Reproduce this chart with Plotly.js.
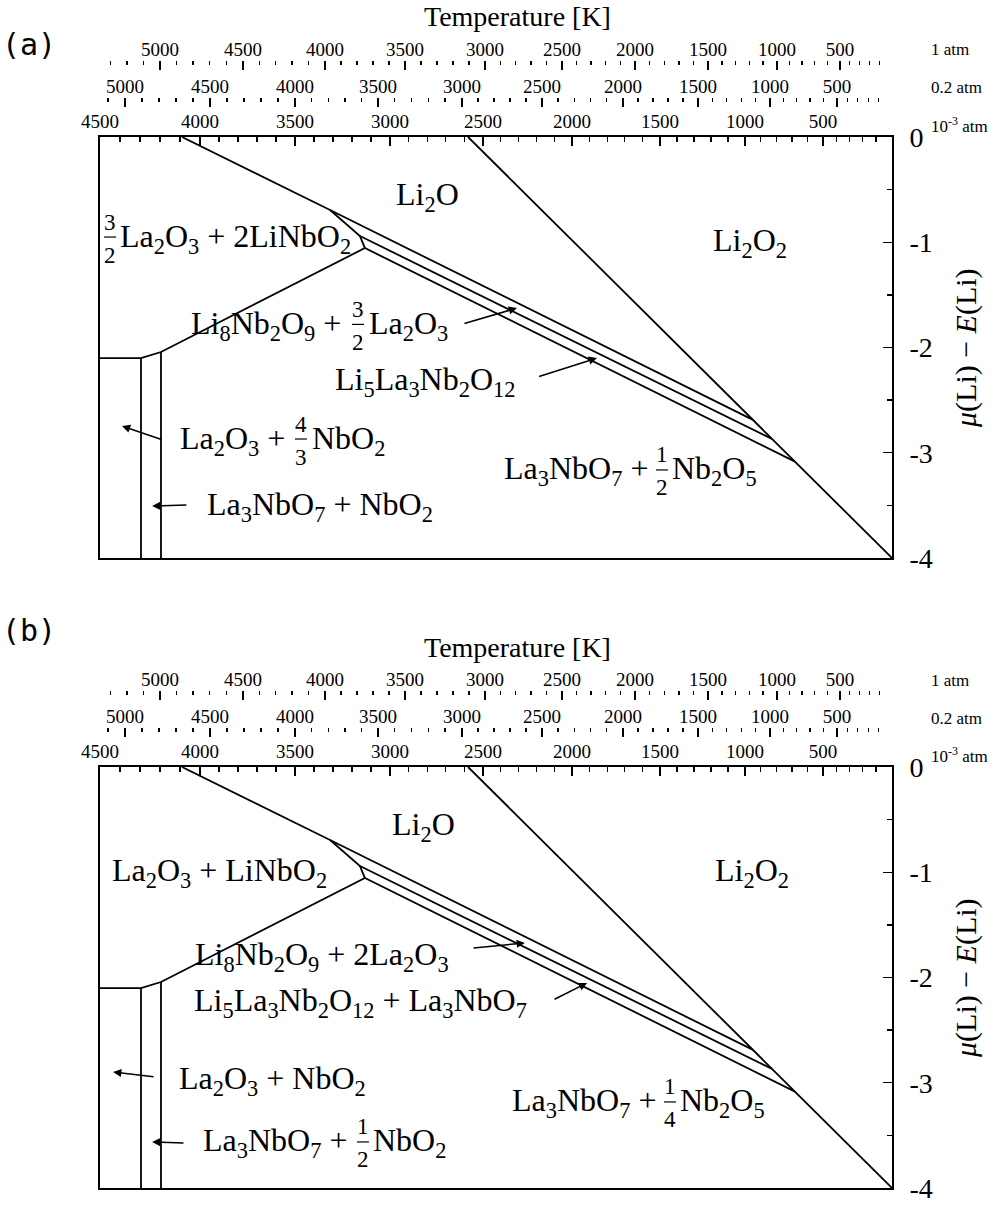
<!DOCTYPE html>
<html>
<head>
<meta charset="utf-8">
<script src="https://cdn.plot.ly/plotly-3.0.1.min.js"></script>
<style>html,body{margin:0;padding:0;background:#fff}#chart{width:1000px;height:1205px}</style>
</head>
<body>
<div id="chart"></div>
<script>
// ===== DATA =====
// x: oxygen chemical potential axis (eV, hidden), y: mu(Li) - E(Li) (eV)
const bTopX  = [-3.586, -2.838, -0.702];
const bTopY  = [0, -0.694, -2.688];
const bPerX  = [-2.141, 0];
const bPerY  = [0, -4];
const bStepX = [-2.838, -2.687, -2.662];
const bStepY = [-0.694, -0.941, -1.055];
const bMidX  = [-2.687, -0.606];
const bMidY  = [-0.941, -2.868];
const bLowX  = [-4.0, -3.793, -3.692, -2.662, -0.490];
const bLowY  = [-2.100, -2.100, -2.043, -1.055, -3.084];
const bV1X   = [-3.793, -3.793];
const bV1Y   = [-2.100, -4];
const bV2X   = [-3.692, -3.692];
const bV2Y   = [-2.043, -4];

// right axis ticks
const muTicks    = [0, -1, -2, -3, -4];
const muTickText = ['0', '-1', '-2', '-3', '-4'];
const muMinor    = [-0.5, -1.5, -2.5, -3.5];

// temperature scales (K) and their positions on the x axis
const t1atmK    = [5000, 4500, 4000, 3500, 3000, 2500, 2000, 1500, 1000, 500];
const t1atmPos  = [-3.697, -3.278, -2.864, -2.460, -2.056, -1.667, -1.298, -0.929, -0.581, -0.263];
const t02atmK   = [5000, 4500, 4000, 3500, 3000, 2500, 2000, 1500, 1000, 500];
const t02atmPos = [-3.874, -3.444, -3.015, -2.596, -2.172, -1.768, -1.359, -0.980, -0.616, -0.278];
const t3atmK    = [4500, 4000, 3500, 3000, 2500, 2000, 1500, 1000, 500];
const t3atmPos  = [-4.000, -3.495, -3.015, -2.535, -2.066, -1.616, -1.172, -0.742, -0.348];
const tZeroPos  = -0.015; // 0 K

// region names: [left text, numerator, denominator, right text]
const regionsA = [
  ['Li<sub>2</sub>O', '', '', ''],
  ['Li<sub>2</sub>O<sub>2</sub>', '', '', ''],
  ['', '3', '2', 'La<sub>2</sub>O<sub>3</sub> + 2LiNbO<sub>2</sub>'],
  ['Li<sub>8</sub>Nb<sub>2</sub>O<sub>9</sub> +', '3', '2', 'La<sub>2</sub>O<sub>3</sub>'],
  ['Li<sub>5</sub>La<sub>3</sub>Nb<sub>2</sub>O<sub>12</sub>', '', '', ''],
  ['La<sub>2</sub>O<sub>3</sub> +', '4', '3', 'NbO<sub>2</sub>'],
  ['La<sub>3</sub>NbO<sub>7</sub> + NbO<sub>2</sub>', '', '', ''],
  ['La<sub>3</sub>NbO<sub>7</sub> +', '1', '2', 'Nb<sub>2</sub>O<sub>5</sub>']
];
const regionsB = [
  ['Li<sub>2</sub>O', '', '', ''],
  ['Li<sub>2</sub>O<sub>2</sub>', '', '', ''],
  ['La<sub>2</sub>O<sub>3</sub> + LiNbO<sub>2</sub>', '', '', ''],
  ['Li<sub>8</sub>Nb<sub>2</sub>O<sub>9</sub> + 2La<sub>2</sub>O<sub>3</sub>', '', '', ''],
  ['Li<sub>5</sub>La<sub>3</sub>Nb<sub>2</sub>O<sub>12</sub> + La<sub>3</sub>NbO<sub>7</sub>', '', '', ''],
  ['La<sub>2</sub>O<sub>3</sub> + NbO<sub>2</sub>', '', '', ''],
  ['La<sub>3</sub>NbO<sub>7</sub> +', '1', '2', 'NbO<sub>2</sub>'],
  ['La<sub>3</sub>NbO<sub>7</sub> +', '1', '4', 'Nb<sub>2</sub>O<sub>5</sub>']
];

// ===== LAYOUT HELPERS (positions / styles) =====
const regionPosA = [[-2.348,-0.570],[-0.717,-1.007],[-3.949,-0.960],[-2.697,-1.790],[-2.359,-2.320],[-2.985,-2.879],[-2.889,-3.515],[-1.162,-3.173]];
const regionPosB = [[-2.364,-0.570],[-0.707,-1.007],[-3.399,-0.998],[-2.879,-1.796],[-2.682,-2.242],[-3.131,-2.983],[-2.672,-3.572],[-1.121,-3.192]];
const fracGapA = [[0,0],[0,0],[0,8],[-15,9],[0,0],[-14,9],[0,0],[-12,8]];
const fracGapB = [[0,0],[0,0],[0,0],[0,0],[0,0],[0,0],[-14,8],[-12,8]];
// arrows [tailX, tailY, tipX, tipY]
const arrowsA = [[-2.167,-1.777,-1.894,-1.625],[-1.790,-2.280,-1.490,-2.100],[-3.682,-2.879,-3.889,-2.746],[-3.556,-3.497,-3.737,-3.506]];
const arrowsB = [[-2.121,-1.720,-1.854,-1.672],[-1.712,-2.214,-1.540,-2.052],[-3.722,-2.945,-3.934,-2.898],[-3.571,-3.572,-3.737,-3.563]];

const SERIF = 'Liberation Serif, Times New Roman, serif';
const LABEL_SIZE = 32, FRAC_SIZE = 23, TICK_SIZE = 19;
const H = 1205, W = 1000;
const py = p => 1 - p / H;

function minorTicks(pos, zeroPos, lo) {
  const out = [];
  const step0 = (pos[1] - pos[0]) / 5;
  for (let k = 1; ; k++) { const p = pos[0] - step0 * k; if (p < lo - 1e-9) break; out.push(p); }
  for (let i = 0; i < pos.length - 1; i++) for (let k = 1; k < 5; k++) out.push(pos[i] + (pos[i+1] - pos[i]) * k / 5);
  const last = pos[pos.length - 1];
  for (let k = 1; k < 5; k++) out.push(last + (zeroPos - last) * k / 5);
  return out;
}

const lineStyle = {color: '#000', width: 1.8};
const boundaries = [[bTopX,bTopY],[bPerX,bPerY],[bStepX,bStepY],[bMidX,bMidY],[bLowX,bLowY],[bV1X,bV1Y],[bV2X,bV2Y]];

const traces = [];
const annotations = [];
const shapes = [];

function tempAxis(K, pos, position, overlay, withLine, anchor) {
  const ax = {
    range: [-4, 0], side: 'top', showgrid: false, zeroline: false, fixedrange: true,
    tickmode: 'array', tickvals: pos, ticktext: K.map(String),
    ticks: 'inside', ticklen: 9, tickwidth: 1.4, tickcolor: '#000',
    tickfont: {family: SERIF, size: TICK_SIZE, color: '#000'},
    minor: {tickmode: 'array', tickvals: minorTicks(pos, tZeroPos, -4), ticks: 'inside', ticklen: 4, tickwidth: 1.4, tickcolor: '#000'}
  };
  if (overlay) { ax.overlaying = overlay; ax.anchor = 'free'; ax.position = position; ax.showline = false; }
  else { ax.anchor = anchor; ax.showline = true; ax.mirror = true; ax.linecolor = '#000'; ax.linewidth = 1.8; ax.ticklen = 9; ax.minor.ticklen = 5; }
  return ax;
}

function yAxis(domain, anchor) {
  return {
    domain: domain, anchor: anchor, range: [-4, 0], side: 'right', showgrid: false, zeroline: false, fixedrange: true,
    showline: true, mirror: true, linecolor: '#000', linewidth: 1.8,
    tickmode: 'array', tickvals: muTicks, ticktext: muTickText,
    ticks: 'inside', ticklen: 9, tickwidth: 1.4, tickcolor: '#000', ticklabelstandoff: 10,
    tickfont: {family: SERIF, size: 28, color: '#000'},
    minor: {tickmode: 'array', tickvals: muMinor, ticks: 'inside', ticklen: 5, tickwidth: 1.4, tickcolor: '#000'}
  };
}

function panel(xa, ya, regions, regionPos, fracGap, arrows, offsetPx, letter) {
  const xr = xa, yr = ya;
  boundaries.forEach(b => traces.push({type: 'scatter', mode: 'lines', x: b[0], y: b[1], xaxis: xr, yaxis: yr, line: lineStyle, hoverinfo: 'skip', showlegend: false}));
  regions.forEach((r, i) => {
    const [x, y] = regionPos[i];
    const base = {xref: xr, yref: yr, x: x, y: y, showarrow: false, yanchor: 'middle', font: {family: SERIF, size: LABEL_SIZE, color: '#000'}};
    if (!r[1]) {
      annotations.push(Object.assign({}, base, {text: r[0], xanchor: 'center'}));
    } else {
      if (r[0]) annotations.push(Object.assign({}, base, {text: r[0], xanchor: 'right', xshift: fracGap[i][0]}));
      if (r[3]) annotations.push(Object.assign({}, base, {text: r[3], xanchor: 'left', xshift: fracGap[i][1]}));
      const fb = {xref: xr, yref: yr, x: x, y: y, showarrow: false, xanchor: 'center', yanchor: 'middle', font: {family: SERIF, size: FRAC_SIZE, color: '#000'}};
      annotations.push(Object.assign({}, fb, {text: r[1], yshift: 16}));
      annotations.push(Object.assign({}, fb, {text: r[2], yshift: -17}));
      shapes.push({type: 'line', xref: xr, yref: yr, xsizemode: 'pixel', ysizemode: 'pixel', xanchor: x, yanchor: y, x0: -6, x1: 6, y0: 1, y1: 1, line: {color: '#000', width: 1.2}});
    }
  });
  arrows.forEach(a => annotations.push({xref: xr, yref: yr, axref: xr, ayref: yr, ax: a[0], ay: a[1], x: a[2], y: a[3], text: ' ', showarrow: true, arrowhead: 2, arrowsize: 1.1, arrowwidth: 1.5, arrowcolor: '#000', standoff: 0, startstandoff: 0, font: {size: 1}}));
  // text around axes
  const txt = (t, xp, yp, size, anchor, family) => annotations.push({xref: 'paper', yref: 'paper', x: xp / W, y: py(yp + offsetPx), text: t, showarrow: false, xanchor: anchor, yanchor: 'middle', font: {family: family || SERIF, size: size, color: '#000'}});
  txt('Temperature [K]', 517, 17, 28, 'center');
  txt('1 atm', 929, 50, 17, 'left');
  txt('0.2 atm', 929, 88, 17, 'left');
  txt('10<sup>-3</sup> atm', 929, 125, 17, 'left');
  annotations.push({xref: 'paper', yref: 'paper', x: 966 / W, y: py(348 + offsetPx), text: '<i>μ</i>(Li) − <i>E</i>(Li)', textangle: -90, showarrow: false, xanchor: 'center', yanchor: 'middle', font: {family: SERIF, size: 30, color: '#000'}});
  annotations.push({xref: 'paper', yref: 'paper', x: 0, y: py(letter[1]), text: letter[0], showarrow: false, xanchor: 'left', yanchor: 'middle', font: {family: 'DejaVu Sans Mono, monospace', size: 30, color: '#000'}});
}

const layout = {
  width: W, height: H, margin: {l: 0, r: 0, t: 0, b: 0}, paper_bgcolor: '#fff', plot_bgcolor: '#fff', showlegend: false,
  xaxis:  Object.assign(tempAxis(t3atmK, t3atmPos, null, null, true, 'y'),  {domain: [0.100, 0.892]}),
  yaxis:  yAxis([py(558), py(137)], 'x'),
  xaxis3: tempAxis(t02atmK, t02atmPos, py(97), 'x'),
  xaxis4: tempAxis(t1atmK, t1atmPos, py(60), 'x'),
  xaxis2: Object.assign(tempAxis(t3atmK, t3atmPos, null, null, true, 'y2'), {domain: [0.100, 0.892]}),
  yaxis2: yAxis([py(1188), py(767)], 'x2'),
  xaxis5: tempAxis(t02atmK, t02atmPos, py(727), 'x2'),
  xaxis6: tempAxis(t1atmK, t1atmPos, py(690), 'x2'),
  annotations: annotations, shapes: shapes
};

panel('x', 'y', regionsA, regionPosA, fracGapA, arrowsA, 0, ['(a)', 45]);
panel('x2', 'y2', regionsB, regionPosB, fracGapB, arrowsB, 630, ['(b)', 630]);
// empty carriers so the extra temperature axes are drawn
[['x3','y'],['x4','y'],['x5','y2'],['x6','y2']].forEach(p => traces.push({type: 'scatter', mode: 'lines', x: [], y: [], xaxis: p[0], yaxis: p[1], hoverinfo: 'skip', showlegend: false}));

Plotly.newPlot('chart', traces, layout, {staticPlot: true, displayModeBar: false});
</script>
</body>
</html>
